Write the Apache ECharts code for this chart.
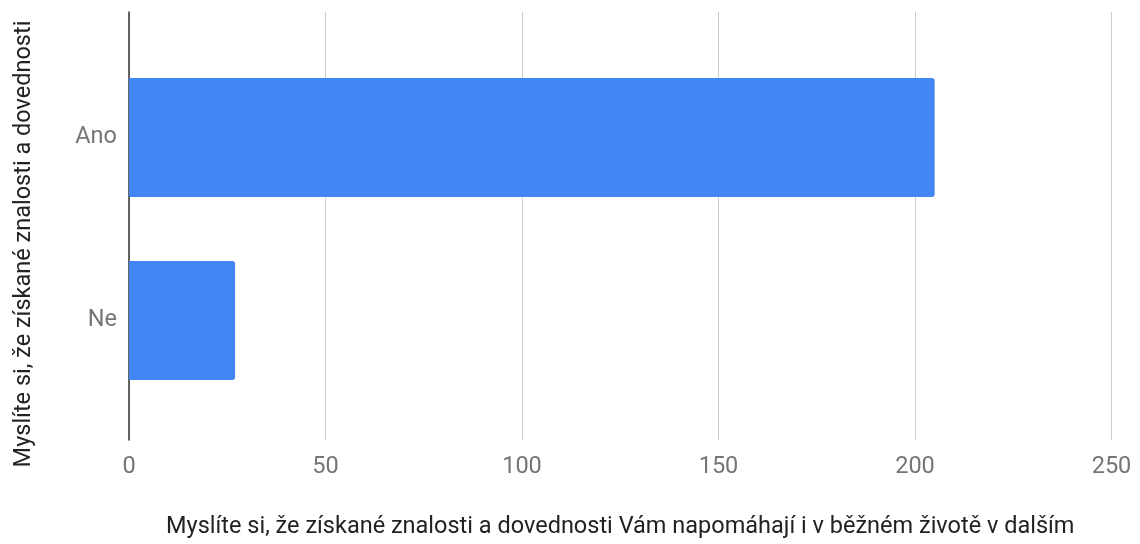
<!DOCTYPE html>
<html>
<head>
<meta charset="utf-8">
<script src="https://cdn.jsdelivr.net/npm/echarts@6/dist/echarts.min.js"></script>
<style>html,body{margin:0;padding:0;background:#fff}#c{width:1140px;height:544px}</style>
</head>
<body>
<div id="c"></div>
<script>
const categories = ['Ano', 'Ne'];
const values = [205, 27];
const xTicks = [0, 50, 100, 150, 200, 250];
const xTitle = 'Myslíte si, že získané znalosti a dovednosti Vám napomáhají i v běžném životě v dalším';
const yTitle = 'Myslíte si, že získané znalosti a dovednosti';

const font = 'Roboto';
const chart = echarts.init(document.getElementById('c'));
chart.setOption({
  animation: false,
  backgroundColor: '#fff',
  grid: [
    {left: 129, right: 28.5, top: 12, bottom: 101},
    {left: 129, right: 28.5, top: 46, bottom: 132}
  ],
  xAxis: [
    {
      type: 'value', gridIndex: 0, min: xTicks[0], max: xTicks[xTicks.length - 1], interval: 50,
      axisLine: {show: false}, axisTick: {show: false},
      splitLine: {show: true, lineStyle: {color: '#cccccc', width: 1}},
      axisLabel: {color: '#757575', fontFamily: font, fontSize: 23.5, margin: 15},
      name: xTitle, nameLocation: 'middle', nameGap: 75,
      nameTextStyle: {color: '#222222', fontFamily: font, fontSize: 23.5}
    },
    {
      type: 'value', gridIndex: 1, min: xTicks[0], max: xTicks[xTicks.length - 1], interval: 50,
      show: false
    }
  ],
  yAxis: [
    {
      type: 'category', gridIndex: 0, data: categories, inverse: true,
      axisLine: {show: true, lineStyle: {color: '#333333', width: 1.5}},
      axisTick: {show: false}, axisLabel: {show: false}, splitLine: {show: false},
      name: yTitle, nameLocation: 'middle', nameGap: 93,
      nameTextStyle: {color: '#222222', fontFamily: font, fontSize: 23.5, padding: [0, 36, 0, 0]}
    },
    {
      type: 'category', gridIndex: 1, data: categories, inverse: true,
      axisLine: {show: false}, axisTick: {show: false}, splitLine: {show: false},
      axisLabel: {color: '#757575', fontFamily: font, fontSize: 23.5, margin: 12}
    }
  ],
  series: [{
    type: 'bar', xAxisIndex: 1, yAxisIndex: 1, data: values, barWidth: 119,
    itemStyle: {color: '#4285f4', borderRadius: [0, 3, 3, 0]}
  }]
});
</script>
</body>
</html>
